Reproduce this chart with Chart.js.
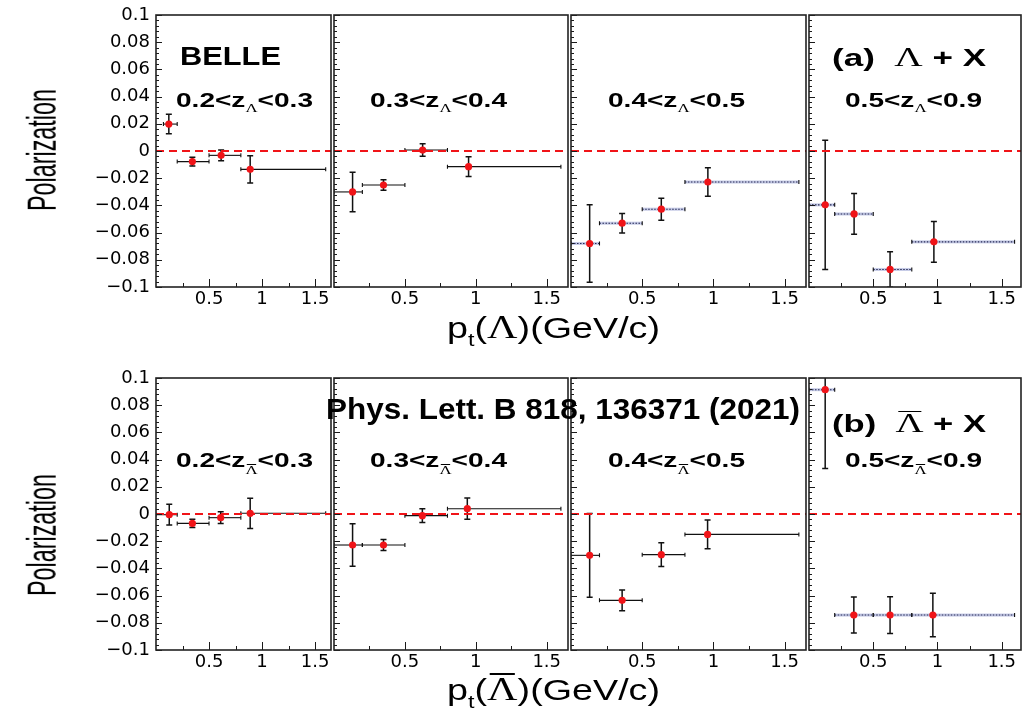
<!DOCTYPE html>
<html>
<head>
<meta charset="utf-8">
<title>Lambda polarization vs pt in z bins</title>
<script src="https://cdn.jsdelivr.net/npm/chart.js@4.4.1/dist/chart.umd.min.js"></script>
<style>
  html, body { margin: 0; padding: 0; background: #fff; }
  #fig { position: relative; width: 1033px; height: 718px; overflow: hidden; background: #fff; }
  #fig canvas { position: absolute; }
  .lbl { position: absolute; left: 0; top: 0; white-space: nowrap; transform-origin: 0 0; color: #000;
         font-family: "Liberation Sans", Arial, sans-serif; line-height: 1.2; }
  .b { font-weight: bold; }
  .bl { display: inline-block; width: 0; height: 0; vertical-align: baseline; }
  .sub { font-family: "Liberation Serif", serif; font-weight: normal; font-size: 0.6em; position: relative; top: 0.36em; }
  .subbar { font-family: "Liberation Serif", serif; font-weight: normal; font-size: 0.6em; position: relative; top: 0.55em; }
  .lam { font-family: "Liberation Serif", serif; font-weight: normal; font-size: 1.12em; }
  /* bar over a Lambda */
  .ov { position: relative; display: inline-block; line-height: 1; }
  .ov::before { content: ''; position: absolute; left: 8%; right: 8%; top: 0.03em; border-top: 0.07em solid #000; }
  .subbar .ov::before { top: 0.0em; border-top-width: 1px; }
  .tsub { font-size: 0.62em; position: relative; top: 0.42em; }
</style>
</head>
<body>
<div id="fig"></div>
<script>
// ---- axis ticks ----
const xTickValues = [0.5, 1, 1.5];
const xTickLabels = ['0.5', '1', '1.5'];
const xMinorValues = [0.25, 0.75, 1.25];
const yTickValues = [-0.1, -0.08, -0.06, -0.04, -0.02, 0, 0.02, 0.04, 0.06, 0.08, 0.1];
const yTickLabels = ['\u22120.1', '\u22120.08', '\u22120.06', '\u22120.04', '\u22120.02', '0',
                     '0.02', '0.04', '0.06', '0.08', '0.1'];

// ---- z bin edges and pt bins (horizontal error bars) ----
const zEdges = ['0.2', '0.3', '0.4', '0.5', '0.9'];
const ptBinLow = [0, 0.2, 0.5, 0.8];
const ptBinHigh = [0.2, 0.5, 0.8, 1.6];
const lamZ1PtLow = [0.07, 0.2, 0.5, 0.8];

// ---- Lambda + X ----
const lamZ1Pt  = [0.121, 0.343, 0.614, 0.888];
const lamZ1Pol = [0.0198, -0.0078, -0.0032, -0.0135];
const lamZ1Err = [0.0072, 0.0032, 0.0040, 0.0100];

const lamZ2Pt  = [0.131, 0.349, 0.625, 0.949];
const lamZ2Pol = [-0.0301, -0.0250, 0.0007, -0.0115];
const lamZ2Err = [0.0145, 0.0038, 0.0046, 0.0072];

const lamZ3Pt  = [0.131, 0.359, 0.634, 0.961];
const lamZ3Pol = [-0.0680, -0.0531, -0.0428, -0.0228];
const lamZ3Err = [0.0285, 0.0072, 0.0081, 0.0104];

const lamZ4Pt  = [0.126, 0.351, 0.631, 0.972];
const lamZ4Pol = [-0.0396, -0.0463, -0.0871, -0.0668];
const lamZ4Err = [0.0475, 0.0150, 0.0130, 0.0150];

// ---- anti-Lambda + X ----
const alamZ1Pt  = [0.125, 0.343, 0.610, 0.888];
const alamZ1Pol = [-0.0005, -0.0069, -0.0027, 0.0005];
const alamZ1Err = [0.0076, 0.0030, 0.0043, 0.0111];

const alamZ2Pt  = [0.131, 0.349, 0.623, 0.940];
const alamZ2Pol = [-0.0228, -0.0228, -0.0012, 0.0039];
const alamZ2Err = [0.0156, 0.0040, 0.0051, 0.0078];

const alamZ3Pt  = [0.131, 0.359, 0.634, 0.959];
const alamZ3Pol = [-0.0304, -0.0635, -0.0299, -0.0150];
const alamZ3Err = [0.0308, 0.0077, 0.0087, 0.0105];

const alamZ4Pt  = [0.126, 0.349, 0.631, 0.964];
const alamZ4Pol = [0.0914, -0.0743, -0.0743, -0.0743];
const alamZ4Err = [0.0580, 0.0132, 0.0135, 0.0160];

// ---- pad frames (pixels) ----
const colLeft = [156, 332, 569, 807];
const colRight = [332, 569, 807, 1022];
const rowTop = [15, 378];
const rowBottom = [287, 650];
const X_MAX = 1.65;

const RED = '#f01418';
const fig = document.getElementById('fig');

const panels = [
  { row: 0, col: 0, pt: lamZ1Pt, pol: lamZ1Pol, err: lamZ1Err, lo: lamZ1PtLow, band: false },
  { row: 0, col: 1, pt: lamZ2Pt, pol: lamZ2Pol, err: lamZ2Err, lo: ptBinLow, band: false },
  { row: 0, col: 2, pt: lamZ3Pt, pol: lamZ3Pol, err: lamZ3Err, lo: ptBinLow, band: true },
  { row: 0, col: 3, pt: lamZ4Pt, pol: lamZ4Pol, err: lamZ4Err, lo: ptBinLow, band: true },
  { row: 1, col: 0, pt: alamZ1Pt, pol: alamZ1Pol, err: alamZ1Err, lo: ptBinLow, band: false },
  { row: 1, col: 1, pt: alamZ2Pt, pol: alamZ2Pol, err: alamZ2Err, lo: ptBinLow, band: false },
  { row: 1, col: 2, pt: alamZ3Pt, pol: alamZ3Pol, err: alamZ3Err, lo: ptBinLow, band: false },
  { row: 1, col: 3, pt: alamZ4Pt, pol: alamZ4Pol, err: alamZ4Err, lo: ptBinLow, band: true }
];

// Error bars drawn under the markers, clipped to the pad frame
const errorBars = {
  id: 'errorBars',
  beforeDatasetsDraw(chart) {
    const { ctx, chartArea: a, scales: { x, y } } = chart;
    const ds = chart.data.datasets.find(d => d.errorBars);
    if (!ds) return;
    ctx.save();
    ctx.beginPath();
    ctx.rect(a.left, a.top, a.right - a.left, a.bottom - a.top);
    ctx.clip();
    for (const p of ds.data) {
      const px = x.getPixelForValue(p.x), py = y.getPixelForValue(p.y);
      const xl = x.getPixelForValue(p.xlo), xh = x.getPixelForValue(p.xhi);
      const yt = y.getPixelForValue(p.y + p.e), yb = y.getPixelForValue(p.y - p.e);
      if (ds.band) {
        ctx.fillStyle = 'rgba(150,158,210,0.55)';
        ctx.fillRect(xl, py - 1.5, xh - xl, 3);
        ctx.strokeStyle = '#262b55';
        ctx.setLineDash([1.5, 1.5]);
      } else {
        ctx.strokeStyle = '#111';
        ctx.setLineDash([]);
      }
      ctx.lineWidth = 1.1;
      ctx.beginPath();
      ctx.moveTo(xl, py); ctx.lineTo(xh, py);
      ctx.stroke();
      ctx.setLineDash([]);
      ctx.strokeStyle = '#111';
      ctx.lineWidth = 1.1;
      ctx.beginPath();
      ctx.moveTo(xl, py - 2); ctx.lineTo(xl, py + 2);
      ctx.moveTo(xh, py - 2); ctx.lineTo(xh, py + 2);
      ctx.stroke();
      ctx.lineWidth = 1.5;
      ctx.beginPath();
      ctx.moveTo(px, yt); ctx.lineTo(px, yb);
      ctx.moveTo(px - 3, yt); ctx.lineTo(px + 3, yt);
      ctx.moveTo(px - 3, yb); ctx.lineTo(px + 3, yb);
      ctx.stroke();
    }
    ctx.restore();
  }
};

// Pad frame with inward major/minor tick marks
const frameTicks = {
  id: 'frameTicks',
  afterDraw(chart) {
    const { ctx, chartArea: a, scales: { x, y } } = chart;
    ctx.save();
    ctx.strokeStyle = '#1a1a1a';
    ctx.lineWidth = 1;
    ctx.beginPath();
    for (const v of xTickValues) {
      const px = Math.round(x.getPixelForValue(v)) + 0.5;
      ctx.moveTo(px, a.bottom); ctx.lineTo(px, a.bottom - 8);
    }
    for (const v of xMinorValues) {
      const px = Math.round(x.getPixelForValue(v)) + 0.5;
      ctx.moveTo(px, a.bottom); ctx.lineTo(px, a.bottom - 4);
    }
    for (let i = 0; i <= 50; i++) {
      const v = -0.1 + i * 0.004;
      const py = Math.round(y.getPixelForValue(v)) + 0.5;
      const len = (i % 5 === 0) ? 6 : 3;
      ctx.moveTo(a.left, py); ctx.lineTo(a.left + len, py);
    }
    ctx.stroke();
    ctx.lineWidth = 1.6;
    ctx.strokeStyle = '#222';
    ctx.strokeRect(a.left, a.top, a.right - a.left, a.bottom - a.top);
    ctx.restore();
  }
};

const tickFont = { family: '"DejaVu Sans", sans-serif', size: 18 };

for (const pn of panels) {
  const padL = pn.col === 0 ? 0 : 2, padR = 3, padT = 12, axisH = 30;
  const left = pn.col === 0 ? 0 : colLeft[pn.col] - 2;
  const top = rowTop[pn.row] - padT;
  const width = colRight[pn.col] + padR - left;
  const height = rowBottom[pn.row] - rowTop[pn.row] + padT + axisH;
  const cv = document.createElement('canvas');
  cv.width = width; cv.height = height;
  cv.style.left = left + 'px'; cv.style.top = top + 'px';
  cv.style.width = width + 'px'; cv.style.height = height + 'px';
  fig.appendChild(cv);

  const pts = pn.pt.map((v, i) => ({ x: v, y: pn.pol[i], e: pn.err[i], xlo: pn.lo[i], xhi: ptBinHigh[i] }));
  const yw = pn.col === 0 ? colLeft[0] : 0;

  new Chart(cv, {
    type: 'scatter',
    data: {
      datasets: [
        { type: 'scatter', data: pts, errorBars: true, band: pn.band, order: 1,
          pointRadius: 3.6, pointBackgroundColor: RED, pointBorderColor: RED, pointBorderWidth: 0 },
        { type: 'line', data: [{ x: 0, y: 0 }, { x: X_MAX, y: 0 }], order: 2,
          borderColor: RED, borderWidth: 2, borderDash: [8, 5], pointRadius: 0, fill: false }
      ]
    },
    options: {
      responsive: false, animation: false, devicePixelRatio: 1, events: [],
      layout: { padding: { left: padL, right: padR, top: padT, bottom: 0 } },
      plugins: { legend: { display: false }, tooltip: { enabled: false } },
      scales: {
        x: {
          type: 'linear', min: 0, max: X_MAX,
          grid: { display: false, drawTicks: false }, border: { display: false },
          afterBuildTicks: s => { s.ticks = xTickValues.map(v => ({ value: v })); },
          afterFit: s => { s.height = axisH; s.paddingLeft = 0; s.paddingRight = 0; },
          ticks: { autoSkip: false, maxRotation: 0, padding: 2, color: '#000', font: tickFont,
                   callback: (v, i) => xTickLabels[i] }
        },
        y: {
          type: 'linear', min: -0.1, max: 0.1,
          grid: { display: false, drawTicks: false }, border: { display: false },
          afterBuildTicks: s => { s.ticks = yTickValues.map(v => ({ value: v })); },
          afterFit: s => { s.width = yw; s.paddingTop = 0; s.paddingBottom = 0; },
          ticks: { display: pn.col === 0, autoSkip: false, padding: 6, color: '#000', font: tickFont,
                   callback: (v, i) => yTickLabels[i] }
        }
      }
    },
    plugins: [errorBars, frameTicks]
  });
}

// ---- text labels ----
function placeNote(n) {
  const el = document.createElement('div');
  el.className = 'lbl' + (n.bold ? ' b' : '');
  el.style.fontSize = n.size + 'px';
  el.innerHTML = n.html + '<span class="bl"></span>';
  fig.appendChild(el);
  const r = el.getBoundingClientRect();
  const base = el.querySelector('.bl').getBoundingClientRect().bottom - r.top;
  el.style.left = n.x + 'px';
  el.style.top = (n.base - base) + 'px';
  el.style.transform = 'scaleX(' + (n.w / r.width) + ')';
}

const LAM = '<span class="lam">\u039B</span>';
const LAMBAR = '<span class="lam ov">\u039B</span>';

function zLabel(i, anti) {
  const sub = anti ? '<span class="subbar"><span class="ov">\u039B</span></span>' : '<span class="sub">\u039B</span>';
  return zEdges[i] + '&lt;z' + sub + '&lt;' + zEdges[i + 1];
}

const zLabelX = [176, 370, 608, 845];
const notes = [
  { html: 'BELLE', bold: true, size: 26, x: 180, base: 65, w: 101 },
  { html: '(a)&nbsp;&nbsp;' + LAM + ' + X', bold: true, size: 24, x: 832, base: 66, w: 154 },
  { html: '(b)&nbsp;&nbsp;' + LAMBAR + ' + X', bold: true, size: 24, x: 832, base: 432, w: 154 },
  { html: 'Phys. Lett. B 818, 136371 (2021)', bold: true, size: 29, x: 326, base: 419, w: 474 },
  { html: 'p<span class="tsub">t</span>(' + LAM + ')(GeV/c)', bold: false, size: 30, x: 447, base: 338, w: 213 },
  { html: 'p<span class="tsub">t</span>(' + LAMBAR + ')(GeV/c)', bold: false, size: 30, x: 447, base: 700, w: 213 }
];
for (let c = 0; c < 4; c++) {
  notes.push({ html: zLabel(c, false), bold: true, size: 21, x: zLabelX[c], base: 107, w: 137 });
  notes.push({ html: zLabel(c, true), bold: true, size: 21, x: zLabelX[c], base: 467, w: 137 });
}
notes.forEach(placeNote);

// rotated y-axis titles
function placeYTitle(cx, cy, len) {
  const el = document.createElement('div');
  el.className = 'lbl';
  el.style.fontSize = '30px';
  el.textContent = 'Polarization';
  fig.appendChild(el);
  const r = el.getBoundingClientRect();
  el.style.left = cx + 'px';
  el.style.top = cy + 'px';
  el.style.transform = 'rotate(-90deg) scale(' + (len / r.width) + ', 1.35) translate(-50%, -50%)';
}
placeYTitle(42, 150, 122);
placeYTitle(42, 535, 122);
</script>
</body>
</html>
